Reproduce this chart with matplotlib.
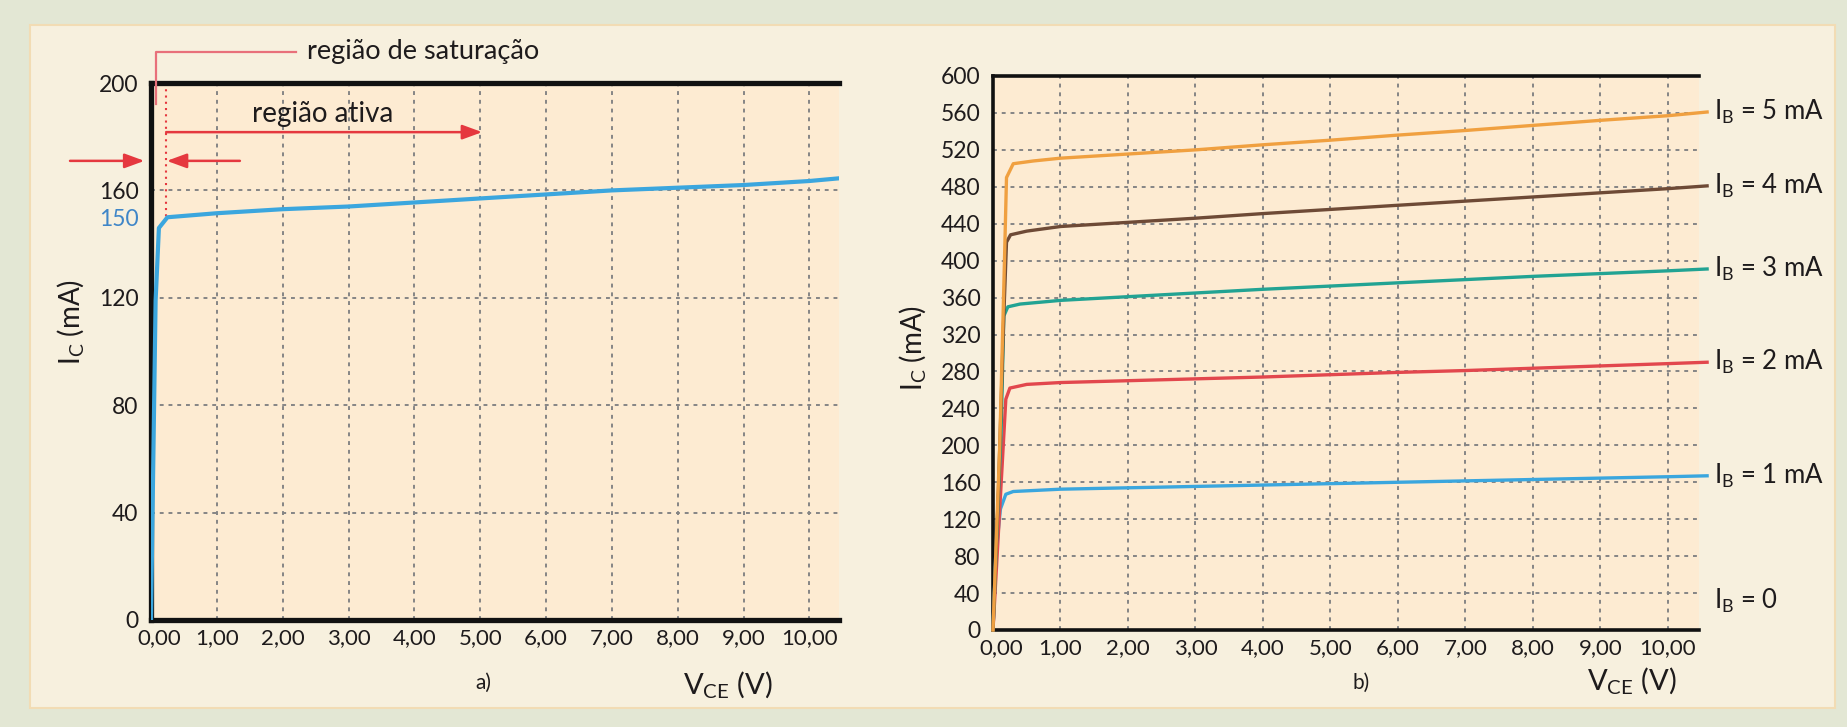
import matplotlib
matplotlib.use("Agg")
import matplotlib.pyplot as plt
from matplotlib.patches import Rectangle
from matplotlib.transforms import ScaledTranslation

plt.rcParams['font.family'] = ['Lato', 'DejaVu Sans']
plt.rcParams['mathtext.default'] = 'regular'

# ---- data: panel a) ----
vce_a = [0, 0.07, 0.12, 0.25, 1, 2, 3, 4, 5, 6, 7, 8, 9, 10, 10.45]
ic_a = [0, 119, 146, 150, 151.5, 153, 154, 155.5, 157, 158.5, 160, 161, 162, 163.5, 164.5]

# ---- data: panel b) ----
ib1_v = [0, 0.04, 0.11, 0.19, 0.3, 1, 2, 3, 4, 5, 6, 7, 8, 9, 10, 10.58]
ib1_i = [0, 80, 131, 147, 150, 152.5, 154, 155.5, 157, 158.5, 160, 161.5, 163, 164.5, 166, 167]
ib2_v = [0, 0.19, 0.25, 0.5, 1, 2, 3, 4, 5, 6, 7, 8, 9, 10, 10.58]
ib2_i = [0, 250, 262, 266, 268, 270, 272, 274, 276.5, 279, 281, 283.5, 286, 288.5, 290]
ib3_v = [0, 0.06, 0.12, 0.16, 0.22, 0.4, 1, 2, 3, 4, 5, 6, 7, 8, 9, 10, 10.58]
ib3_i = [0, 110, 215, 340, 350, 353, 357, 361, 365, 369, 372.5, 376, 379.5, 383, 386, 389, 391]
ib4_v = [0, 0.08, 0.16, 0.2, 0.26, 0.5, 1, 2, 3, 4, 5, 6, 7, 8, 9, 10, 10.58]
ib4_i = [0, 150, 340, 420, 428, 432, 437, 441.5, 446, 451, 455.5, 460, 464.5, 469, 473.5, 478, 481]
ib5_v = [0, 0.1, 0.17, 0.2, 0.3, 0.6, 1, 2, 3, 4, 5, 6, 7, 8, 9, 10, 10.58]
ib5_i = [0, 200, 400, 490, 505, 508, 511, 515.5, 520, 525.5, 530.5, 536, 541, 546.5, 552, 557, 561]

curve_names = ["1 mA", "2 mA", "3 mA", "4 mA", "5 mA"]
curve_colors = ["#3aa6de", "#e2474d", "#22a393", "#6e4a36", "#f0a040"]
ib0_level = 31

x_ticks = [0, 1, 2, 3, 4, 5, 6, 7, 8, 9, 10]
x_ticklabels = ["0,00", "1,00", "2,00", "3,00", "4,00", "5,00", "6,00", "7,00", "8,00", "9,00", "10,00"]
y_ticks_a = [0, 40, 80, 120, 150, 160, 200]
y_grid_a = [40, 80, 120, 160]
y_ticks_b = list(range(0, 601, 40))

RED = "#e5383f"
INK = "#1e1b1c"
GRID = "#858585"
AX_BG = "#fdebd2"

fig = plt.figure(figsize=(18.47, 7.27), dpi=100)
fig.patch.set_facecolor("#e3e7d4")
fig.patches.append(Rectangle((30 / 1847, 19 / 727), 1805 / 1847, 683 / 727,
                             transform=fig.transFigure, facecolor="#f7f0de",
                             edgecolor="#f2dcb4", lw=1.5, zorder=-5))


def style_axes(ax, spine_w, xmax, ymax):
    ax.set_facecolor(AX_BG)
    ax.set_xlim(0, xmax)
    ax.set_ylim(0, ymax)
    for side in ["left", "bottom", "top"]:
        ax.spines[side].set_linewidth(spine_w)
        ax.spines[side].set_color("#111111")
    ax.spines["right"].set_visible(False)
    ax.set_xticks(x_ticks)
    ax.set_xticklabels(x_ticklabels)
    ax.tick_params(axis="x", length=0, pad=6, labelsize=16, colors=INK)
    ax.tick_params(axis="y", length=0, pad=9, labelsize=16.5, colors=INK)
    for xv in x_ticks[1:]:
        ax.axvline(xv, color=GRID, lw=1.4, ls=(0, (2, 2.5)), zorder=1)
    # first tick label sits a bit to the right in the original
    lbl = ax.get_xticklabels()[0]
    lbl.set_transform(lbl.get_transform() + ScaledTranslation(8 / 100, 0, fig.dpi_scale_trans))


# ---- panel a ----
ax1 = fig.add_axes([151 / 1847, 107 / 727, 688 / 1847, 537 / 727])
style_axes(ax1, 3.8, 10.45, 200)
ax1.set_yticks(y_ticks_a)
ax1.set_yticklabels([str(v) for v in y_ticks_a])
ax1.get_yticklabels()[y_ticks_a.index(150)].set_color("#3f86c8")
for yv in y_grid_a:
    ax1.axhline(yv, color=GRID, lw=1.4, ls=(0, (2, 2.5)), zorder=1)
ax1.plot(vce_a, ic_a, color="#3ba6de", lw=3, zorder=3, solid_capstyle="round")

# saturation boundary
ax1.plot([0.23, 0.23], [200, 150], color=RED, lw=1.5, ls=(0, (1, 2)), zorder=2)
ax1.plot([0.08, 0.08, 2.2], [192, 211.6, 211.6], color="#e8707a", lw=1.6,
         clip_on=False, zorder=4)
ax1.text(2.37, 211.6, "região de saturação", fontsize=19.5, color=INK,
         va="center", ha="left")
arrow_kw = dict(arrowstyle="-|>,head_length=0.6,head_width=0.22", color=RED,
                lw=1.8, mutation_scale=20, shrinkA=0, shrinkB=0)
ax1.annotate("", xy=(5.03, 181.7), xytext=(0.23, 181.7), arrowprops=arrow_kw,
             annotation_clip=False)
ax1.text(1.53, 183.5, "região ativa", fontsize=20, color=INK, va="bottom", ha="left")
ax1.annotate("", xy=(-0.1, 171), xytext=(-1.23, 171), arrowprops=arrow_kw,
             annotation_clip=False)
ax1.annotate("", xy=(0.24, 171), xytext=(1.35, 171), arrowprops=arrow_kw,
             annotation_clip=False)

fig.text(71 / 1847, 1 - 322 / 727, r"I$_{C}$ (mA)", rotation=90, fontsize=20,
         color=INK, ha="center", va="center")
fig.text(728 / 1847, 1 - 684 / 727, r"V$_{CE}$ (V)", fontsize=21, color=INK,
         ha="center", va="center")
fig.text(483 / 1847, 1 - 683 / 727, "a)", fontsize=15, color=INK,
         ha="center", va="center")

# ---- panel b ----
ax2 = fig.add_axes([993 / 1847, 97 / 727, 706 / 1847, 554 / 727])
style_axes(ax2, 2.6, 10.46, 600)
ax2.set_yticks(y_ticks_b)
ax2.set_yticklabels([str(v) for v in y_ticks_b])
for yv in y_ticks_b[1:-1]:
    ax2.axhline(yv, color=GRID, lw=1.4, ls=(0, (2, 2.5)), zorder=1)

curves_v = [ib1_v, ib2_v, ib3_v, ib4_v, ib5_v]
curves_i = [ib1_i, ib2_i, ib3_i, ib4_i, ib5_i]
for v, i, c, name in zip(curves_v, curves_i, curve_colors, curve_names):
    ax2.plot(v, i, color=c, lw=2.4, zorder=3, clip_on=False)
    ax2.text(10.68, i[-1], r"I$_{B}$ = " + name, fontsize=18.5, color=INK,
             va="center", ha="left")
ax2.text(10.68, ib0_level, r"I$_{B}$ = 0", fontsize=18.5, color=INK,
         va="center", ha="left")

fig.text(913 / 1847, 1 - 348 / 727, r"I$_{C}$ (mA)", rotation=90, fontsize=20,
         color=INK, ha="center", va="center")
fig.text(1632 / 1847, 1 - 681 / 727, r"V$_{CE}$ (V)", fontsize=21, color=INK,
         ha="center", va="center")
fig.text(1361 / 1847, 1 - 683 / 727, "b)", fontsize=15, color=INK,
         ha="center", va="center")

fig.savefig("out.png", dpi=100, facecolor=fig.get_facecolor())
